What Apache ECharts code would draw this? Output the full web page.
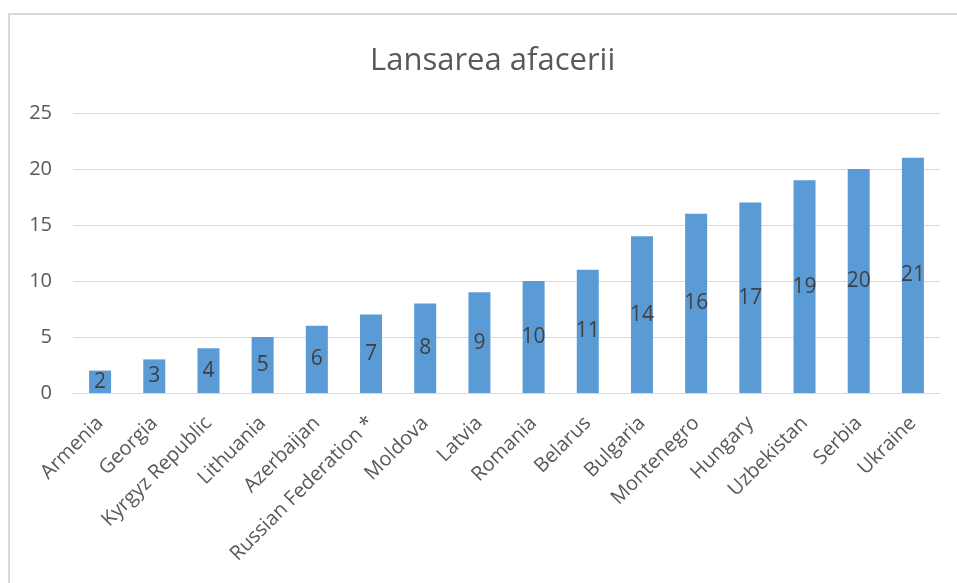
<!DOCTYPE html>
<html>
<head>
<meta charset="utf-8">
<script src="https://cdn.jsdelivr.net/npm/echarts@6/dist/echarts.min.js"></script>
<style>
  html, body { margin: 0; padding: 0; background: #fff; }
  #chart { width: 957px; height: 583px; }
</style>
</head>
<body>
<div id="chart"></div>
<script>
// data
const countries = ["Armenia", "Georgia", "Kyrgyz Republic", "Lithuania", "Azerbaijan",
  "Russian Federation *", "Moldova", "Latvia", "Romania", "Belarus", "Bulgaria",
  "Montenegro", "Hungary", "Uzbekistan", "Serbia", "Ukraine"];
const ranks = [2, 3, 4, 5, 6, 7, 8, 9, 10, 11, 14, 16, 17, 19, 20, 21];
const yTicks = [0, 5, 10, 15, 20, 25];

const font = "'Open Sans', 'Noto Sans', sans-serif";
const chart = echarts.init(document.getElementById("chart"));

chart.setOption({
  animation: false,
  textStyle: { fontFamily: font },
  title: {
    text: "Lansarea afacerii",
    left: 365,
    top: 41,
    textStyle: { fontFamily: font, fontSize: 31, fontWeight: "normal", color: "#595959" }
  },
  graphic: [{
    type: "rect",
    shape: { x: 9, y: 14, width: 1000, height: 700 },
    style: { fill: "none", stroke: "#d9d9d9", lineWidth: 2 },
    silent: true
  }],
  grid: { left: 73, right: 17, top: 113, bottom: 190 },
  xAxis: {
    type: "category",
    data: countries,
    axisTick: { show: false },
    axisLine: { lineStyle: { color: "#d9d9d9", width: 1 } },
    axisLabel: {
      interval: 0,
      rotate: 45,
      margin: 27,
      fontSize: 20,
      color: "#595959",
      fontFamily: font
    }
  },
  yAxis: {
    type: "value",
    min: yTicks[0],
    max: yTicks[yTicks.length - 1],
    interval: 5,
    axisLine: { show: false },
    axisTick: { show: false },
    splitLine: { lineStyle: { color: "#d9d9d9", width: 1 } },
    axisLabel: { fontSize: 20, color: "#595959", margin: 21, fontFamily: font }
  },
  series: [{
    type: "bar",
    data: ranks,
    barWidth: 22,
    itemStyle: { color: "#5b9bd5" },
    label: {
      show: true,
      position: "inside",
      fontSize: 21,
      color: "#404040",
      fontFamily: font
    }
  }]
});
</script>
</body>
</html>
